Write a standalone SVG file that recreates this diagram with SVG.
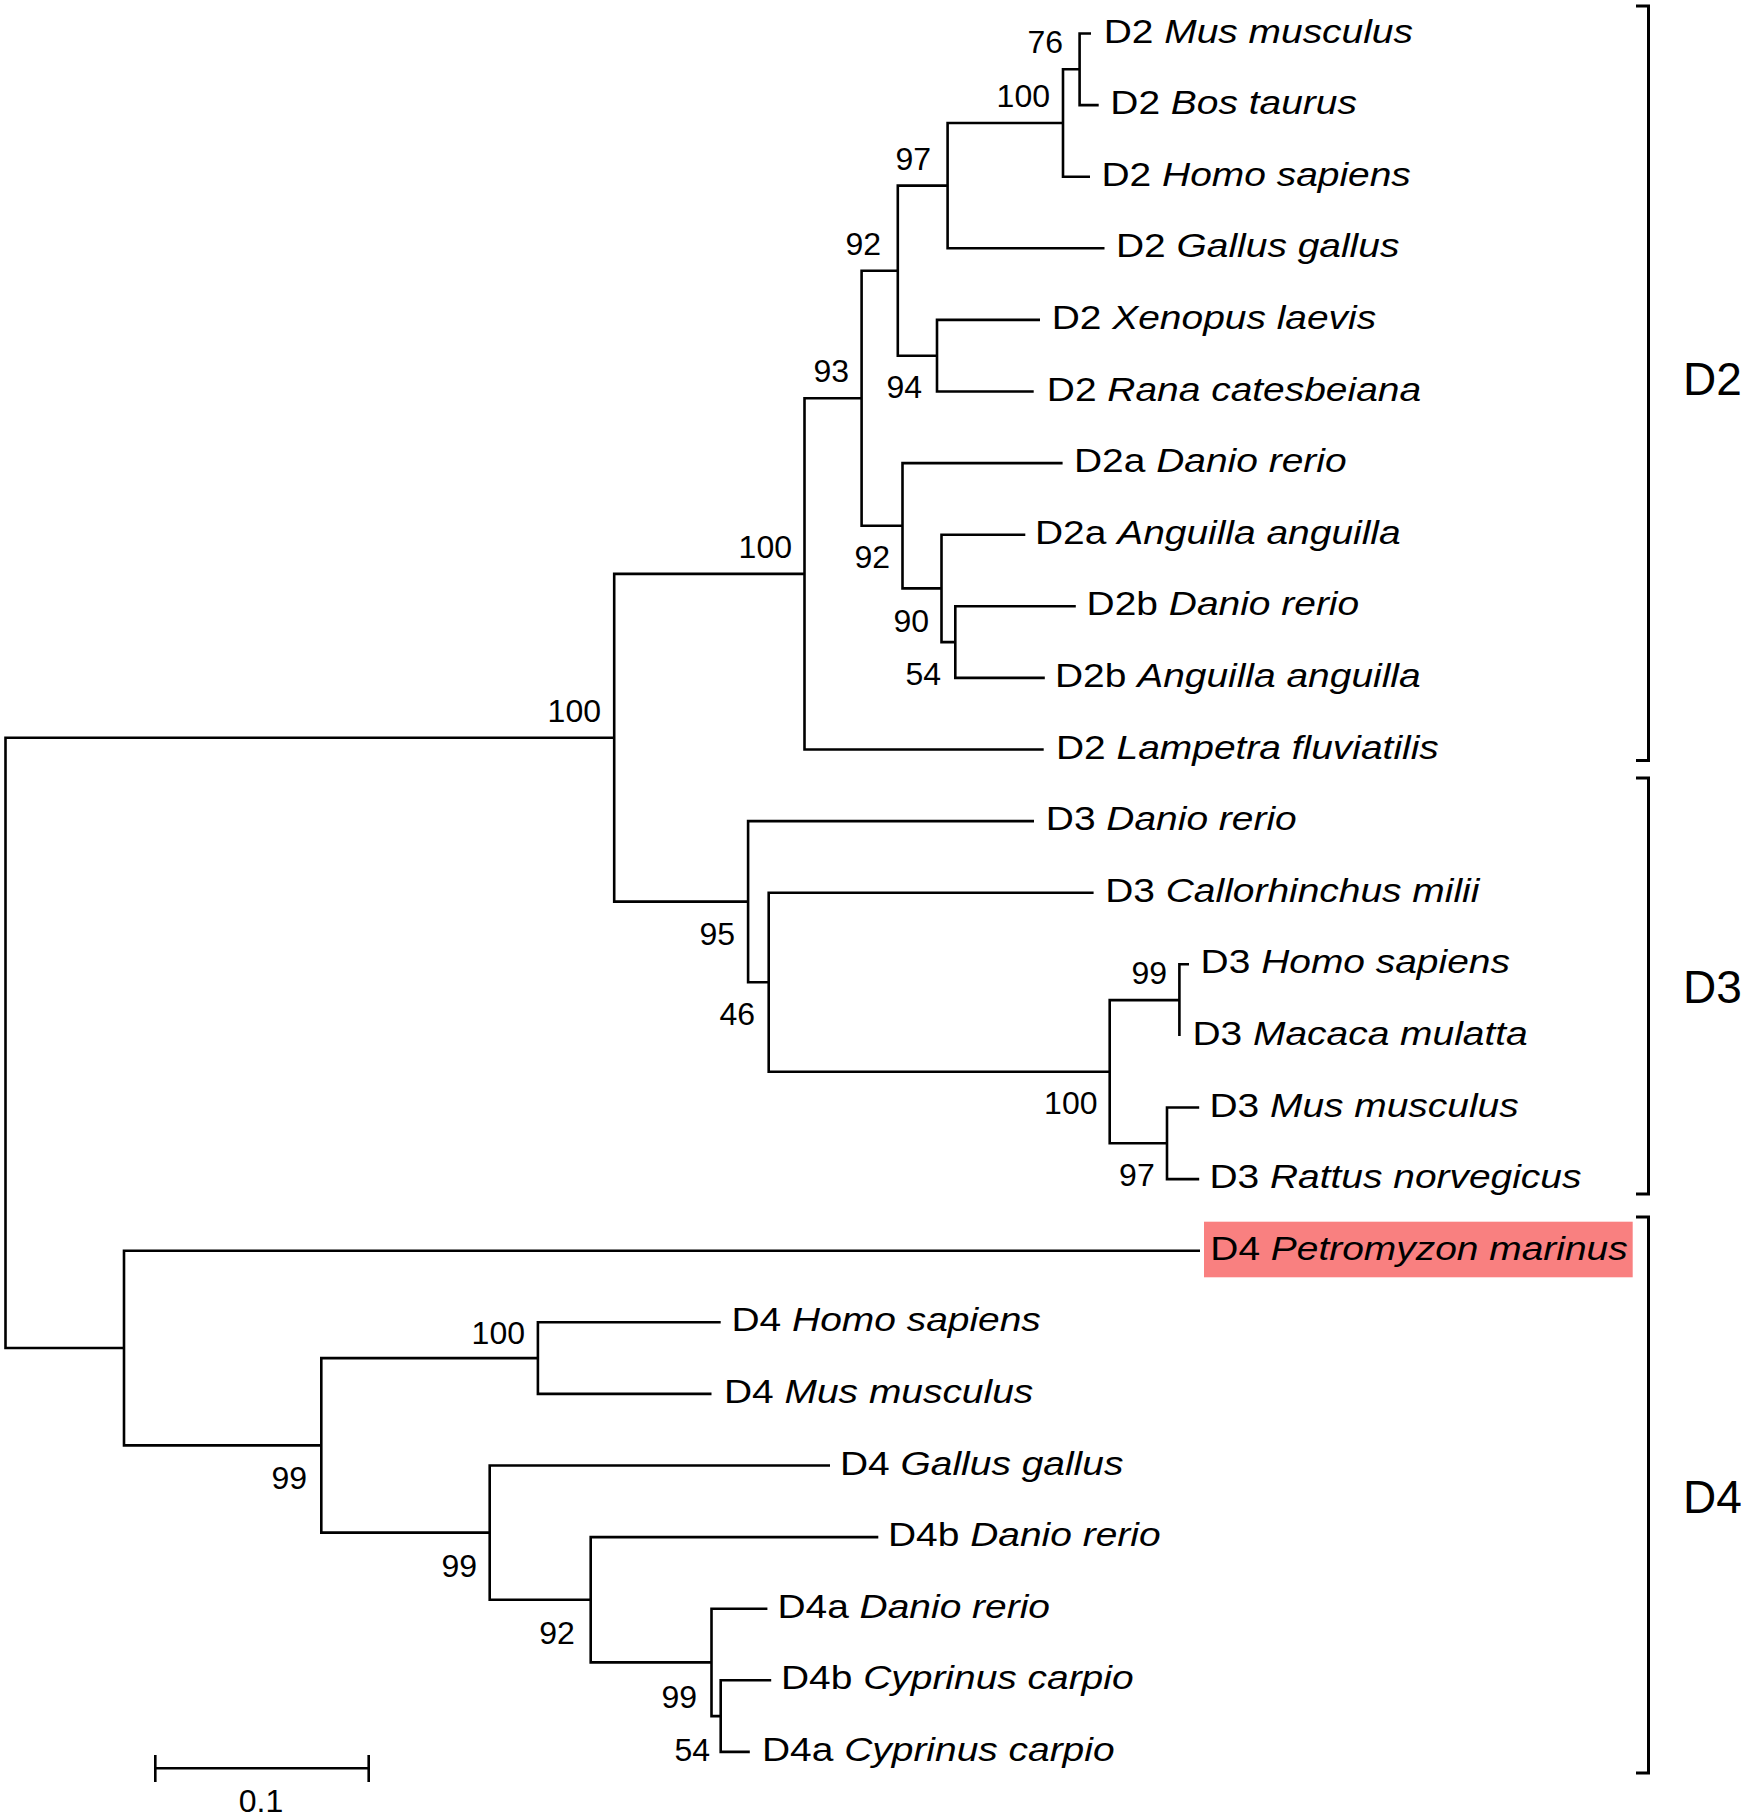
<svg xmlns="http://www.w3.org/2000/svg" width="1750" height="1817" viewBox="0 0 1750 1817">
<style>
.br{fill:none;stroke:#000;stroke-width:2.6;stroke-linejoin:miter;stroke-linecap:butt}
.lf{font-family:"Liberation Sans",Arial,Helvetica,sans-serif;font-size:34px;fill:#000}
.it{font-style:italic}
.bs{font-family:"Liberation Sans",Arial,Helvetica,sans-serif;font-size:32px;fill:#000;text-anchor:end}
.gp{font-family:"Liberation Sans",Arial,Helvetica,sans-serif;font-size:46px;fill:#000}
.bk{fill:none;stroke:#000;stroke-width:3}
</style>
<rect width="1750" height="1817" fill="#fff"/>
<g id="connectors" class="br">
<path d="M614.2 737.75H5.5V1348H124"/>
<path d="M804.5 573.85H614.2V901.65H748.1"/>
<path d="M861.6 398.2H804.5V749.5H1043.7"/>
<path d="M897.8 270.7H861.6V525.75H902.5"/>
<path d="M947.6 185.65H897.8V355.7H937"/>
<path d="M1063 123H947.6V248.3H1104.5"/>
<path d="M1079.6 69.3H1063V176.7H1090"/>
<path d="M1091 33.5H1079.6V105.1H1098.7"/>
<path d="M1040 319.9H937V391.5H1033.7"/>
<path d="M1062.6 463.1H902.5V588.4H941.5"/>
<path d="M1025.3 534.7H941.5V642.1H955.3"/>
<path d="M1075.8 606.3H955.3V677.9H1044.8"/>
<path d="M1034 821.1H748.1V982.2H768.7"/>
<path d="M1093.6 892.7H768.7V1071.7H1109.7"/>
<path d="M1179.4 1000.1H1109.7V1143.3H1167"/>
<path d="M1189 964.3H1179.4V1035.9"/>
<path d="M1199.2 1107.5H1167V1179.1H1199.2"/>
<path d="M1200 1250.7H124V1445.35H321.3"/>
<path d="M537.9 1358.1H321.3V1532.6H489.7"/>
<path d="M720.7 1322.3H537.9V1393.9H711.5"/>
<path d="M830 1465.5H489.7V1599.75H590.7"/>
<path d="M878.3 1537.1H590.7V1662.4H711.5"/>
<path d="M767.4 1608.7H711.5V1716.1H720.7"/>
<path d="M771.2 1680.3H720.7V1751.9H749.8"/>
</g>
<g id="bootstrap">
<text class="bs" x="1063" y="53">76</text>
<text class="bs" x="1050" y="107">100</text>
<text class="bs" x="931" y="170">97</text>
<text class="bs" x="881" y="255">92</text>
<text class="bs" x="922" y="398">94</text>
<text class="bs" x="849" y="382">93</text>
<text class="bs" x="792" y="558">100</text>
<text class="bs" x="890" y="568">92</text>
<text class="bs" x="929" y="632">90</text>
<text class="bs" x="941" y="685">54</text>
<text class="bs" x="601" y="721.7">100</text>
<text class="bs" x="735" y="945">95</text>
<text class="bs" x="755" y="1025">46</text>
<text class="bs" x="1167" y="984">99</text>
<text class="bs" x="1097.5" y="1114">100</text>
<text class="bs" x="1154.7" y="1186">97</text>
<text class="bs" x="525" y="1343.6">100</text>
<text class="bs" x="307" y="1489">99</text>
<text class="bs" x="477" y="1577">99</text>
<text class="bs" x="574.8" y="1643.5">92</text>
<text class="bs" x="697" y="1707.7">99</text>
<text class="bs" x="710" y="1761">54</text>
</g>
<g id="leaf-d2-mus"><text class="lf" transform="translate(1103.7 42.5) scale(1.145 1)">D2 <tspan class="it">Mus musculus</tspan></text></g>
<g id="leaf-d2-bos"><text class="lf" transform="translate(1110.3 114.1) scale(1.145 1)">D2 <tspan class="it">Bos taurus</tspan></text></g>
<g id="leaf-d2-homo"><text class="lf" transform="translate(1101.5 185.7) scale(1.145 1)">D2 <tspan class="it">Homo sapiens</tspan></text></g>
<g id="leaf-d2-gallus"><text class="lf" transform="translate(1116 257.3) scale(1.145 1)">D2 <tspan class="it">Gallus gallus</tspan></text></g>
<g id="leaf-d2-xenopus"><text class="lf" transform="translate(1051.7 328.9) scale(1.145 1)">D2 <tspan class="it">Xenopus laevis</tspan></text></g>
<g id="leaf-d2-rana"><text class="lf" transform="translate(1046.8 400.5) scale(1.145 1)">D2 <tspan class="it">Rana catesbeiana</tspan></text></g>
<g id="leaf-d2a-danio"><text class="lf" transform="translate(1074 472.1) scale(1.145 1)">D2a <tspan class="it">Danio rerio</tspan></text></g>
<g id="leaf-d2a-anguilla"><text class="lf" transform="translate(1035 543.7) scale(1.145 1)">D2a <tspan class="it">Anguilla anguilla</tspan></text></g>
<g id="leaf-d2b-danio"><text class="lf" transform="translate(1086.6 615.3) scale(1.145 1)">D2b <tspan class="it">Danio rerio</tspan></text></g>
<g id="leaf-d2b-anguilla"><text class="lf" transform="translate(1055 686.9) scale(1.145 1)">D2b <tspan class="it">Anguilla anguilla</tspan></text></g>
<g id="leaf-d2-lampetra"><text class="lf" transform="translate(1056 758.5) scale(1.145 1)">D2 <tspan class="it">Lampetra fluviatilis</tspan></text></g>
<g id="leaf-d3-danio"><text class="lf" transform="translate(1045.8 830.1) scale(1.145 1)">D3 <tspan class="it">Danio rerio</tspan></text></g>
<g id="leaf-d3-callorhinchus"><text class="lf" transform="translate(1105.2 901.7) scale(1.145 1)">D3 <tspan class="it">Callorhinchus milii</tspan></text></g>
<g id="leaf-d3-homo"><text class="lf" transform="translate(1200.6 973.3) scale(1.145 1)">D3 <tspan class="it">Homo sapiens</tspan></text></g>
<g id="leaf-d3-macaca"><text class="lf" transform="translate(1192.5 1044.9) scale(1.145 1)">D3 <tspan class="it">Macaca mulatta</tspan></text></g>
<g id="leaf-d3-mus"><text class="lf" transform="translate(1209.4 1116.5) scale(1.145 1)">D3 <tspan class="it">Mus musculus</tspan></text></g>
<g id="leaf-d3-rattus"><text class="lf" transform="translate(1209.4 1188.1) scale(1.145 1)">D3 <tspan class="it">Rattus norvegicus</tspan></text></g>
<g id="leaf-d4-petromyzon"><rect x="1204" y="1221.7" width="428.7" height="55.6" fill="#f98080"/><text class="lf" transform="translate(1210.3 1259.7) scale(1.145 1)">D4 <tspan class="it">Petromyzon marinus</tspan></text></g>
<g id="leaf-d4-homo"><text class="lf" transform="translate(731.5 1331.3) scale(1.145 1)">D4 <tspan class="it">Homo sapiens</tspan></text></g>
<g id="leaf-d4-mus"><text class="lf" transform="translate(724 1402.9) scale(1.145 1)">D4 <tspan class="it">Mus musculus</tspan></text></g>
<g id="leaf-d4-gallus"><text class="lf" transform="translate(840 1474.5) scale(1.145 1)">D4 <tspan class="it">Gallus gallus</tspan></text></g>
<g id="leaf-d4b-danio"><text class="lf" transform="translate(888 1546.1) scale(1.145 1)">D4b <tspan class="it">Danio rerio</tspan></text></g>
<g id="leaf-d4a-danio"><text class="lf" transform="translate(777.4 1617.7) scale(1.145 1)">D4a <tspan class="it">Danio rerio</tspan></text></g>
<g id="leaf-d4b-cyprinus"><text class="lf" transform="translate(781 1689.3) scale(1.145 1)">D4b <tspan class="it">Cyprinus carpio</tspan></text></g>
<g id="leaf-d4a-cyprinus"><text class="lf" transform="translate(762 1760.9) scale(1.145 1)">D4a <tspan class="it">Cyprinus carpio</tspan></text></g>
<g id="group-d2"><path class="bk" d="M1636 6H1648.5V760.5H1636"/><text class="gp" x="1683" y="395">D2</text></g>
<g id="group-d3"><path class="bk" d="M1636 778H1648.5V1194H1636"/><text class="gp" x="1683" y="1003">D3</text></g>
<g id="group-d4"><path class="bk" d="M1636 1217H1648.5V1773H1636"/><text class="gp" x="1683" y="1513">D4</text></g>
<g id="scale-bar"><path class="br" d="M155.3 1768.3H368.7M155.3 1755V1782M368.7 1755V1782"/><text class="bs" x="261" y="1812" style="text-anchor:middle">0.1</text></g>
</svg>
